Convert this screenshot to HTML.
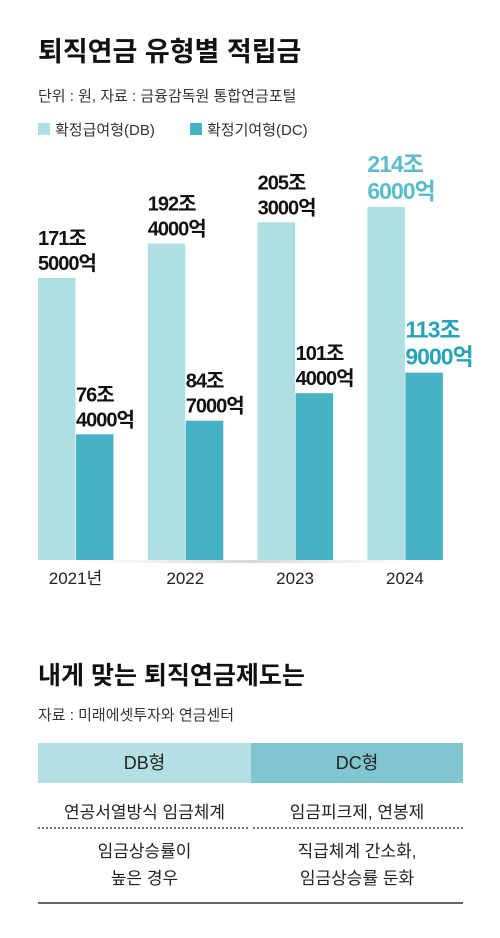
<!DOCTYPE html>
<html><head><meta charset="utf-8"><style>
body{margin:0;width:500px;height:938px;background:#fff;font-family:"Liberation Sans","Noto Sans CJK KR",sans-serif;color:#222;position:relative;overflow:hidden}
.a{position:absolute;white-space:nowrap}
</style></head><body>
<div class="a" style="left:38px;top:30px;font-size:27px;font-weight:bold;color:#111">퇴직연금 유형별 적립금</div>
<div class="a" style="left:38px;top:85px;font-size:15px;color:#333">단위 : 원, 자료 : 금융감독원 통합연금포털</div>
<div class="a" style="left:38px;top:119px;font-size:15px;color:#333"><span style="display:inline-block;width:12px;height:12px;background:#afdfe3;margin-right:5px"></span>확정급여형(DB)</div>
<div class="a" style="left:190px;top:119px;font-size:15px;color:#333"><span style="display:inline-block;width:12px;height:12px;background:#45b3c4;margin-right:5px"></span>확정기여형(DC)</div>
<svg id="chart" class="a" style="left:0;top:0" width="500" height="620">
<defs><linearGradient id="sg" x1="0" x2="1"><stop offset="0" stop-color="#fff"/><stop offset="0.5" stop-color="#d8d8d8"/><stop offset="1" stop-color="#fff"/></linearGradient></defs>
</svg>
<div class="a" style="left:38px;top:656px;font-size:25px;font-weight:bold;color:#111">내게 맞는 퇴직연금제도는</div>
<div class="a" style="left:38px;top:704px;font-size:15px;color:#333">자료 : 미래에셋투자와 연금센터</div>
<div class="a" style="left:38px;top:743px;width:213px;height:40px;background:#b3e0e3;text-align:center;line-height:40px;font-size:18px">DB형</div>
<div class="a" style="left:251px;top:743px;width:212px;height:40px;background:#7fc6d0;text-align:center;line-height:40px;font-size:18px">DC형</div>
<div class="a" style="left:38px;top:798px;width:213px;text-align:center;font-size:17px">연공서열방식 임금체계</div>
<div class="a" style="left:251px;top:798px;width:212px;text-align:center;font-size:17px">임금피크제, 연봉제</div>
<div class="a" style="left:38px;top:827px;width:210px;border-top:2px dotted #777"></div>
<div class="a" style="left:253px;top:827px;width:210px;border-top:2px dotted #777"></div>
<div class="a" style="left:38px;top:838px;width:213px;text-align:center;font-size:17px;line-height:27px">임금상승률이<br>높은 경우</div>
<div class="a" style="left:251px;top:838px;width:212px;text-align:center;font-size:17px;line-height:27px">직급체계 간소화,<br>임금상승률 둔화</div>
<div class="a" style="left:38px;top:902px;width:425px;border-top:2px solid #666"></div>
<script>
const years=["2021년","2022","2023","2024"];
const dbValues=[171.5,192.4,205.3,214.6];
const dcValues=[76.4,84.7,101.4,113.9];
const dbLabels=[["171조","5000억"],["192조","4000억"],["205조","3000억"],["214조","6000억"]];
const dcLabels=[["76조","4000억"],["84조","7000억"],["101조","4000억"],["113조","9000억"]];
const NS="http://www.w3.org/2000/svg";
const svg=document.getElementById('chart');
const base=560,k=1.645,x0=38,step=109.8,bw=37.5;
const y=v=>base-v*k;
function el(t,a){const e=document.createElementNS(NS,t);for(const n in a)e.setAttribute(n,a[n]);svg.appendChild(e);return e;}
const sh=el('rect',{x:90,y:base,width:320,height:3,fill:'url(#sg)'});


years.forEach((yr,i)=>{
  const gx=x0+i*step;
  const last=i===years.length-1;
  [[dbValues[i],dbLabels[i],'#afdfe3',gx,last?'#5bbccb':'#111','db'],[dcValues[i],dcLabels[i],'#45b3c4',gx+bw+0.5,last?'#26a3b6':'#111','dc']].forEach(([v,lab,c,bx,tc,s])=>{
    const r=el('rect',{x:bx,y:y(v),width:bw,height:v*k,fill:c});
    
    
    const fs=last?23:20;
    lab.forEach((l,j)=>{
      const t=el('text',{x:bx,y:y(v)-8-(1-j)*(last?27:25),'font-size':fs,'font-weight':'bold',fill:tc,'letter-spacing':'-1'});
      t.textContent=l;
      
      
    });
  });
  const t=el('text',{x:gx+bw,y:base+24,'font-size':17,fill:'#222','text-anchor':'middle'});
  t.textContent=yr;
  
  
});
</script>
</body></html>
